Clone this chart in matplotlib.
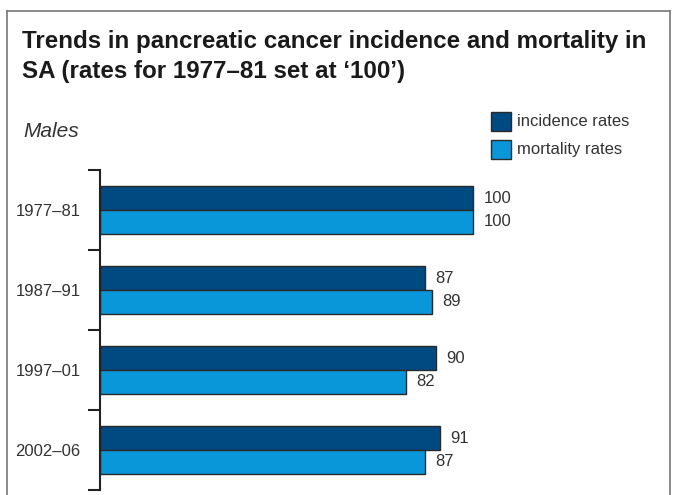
import matplotlib.pyplot as plt
from matplotlib.lines import Line2D
from matplotlib.patches import Rectangle
import numpy as np

plt.rcParams['font.family'] = ['Liberation Sans', 'DejaVu Sans']

periods = ["1977–81", "1987–91", "1997–01", "2002–06"]
incidence = [100, 87, 90, 91]
mortality = [100, 89, 82, 87]
series_names = ["incidence rates", "mortality rates"]

dark = "#004a82"
light = "#0a97d9"
edge = "#2a2a2a"
txt = "#333333"

W, H = 679, 495
fig = plt.figure(figsize=(6.79, 4.95), dpi=100)
ax = fig.add_axes([100 / W, 5 / H, 560 / W, 320 / H])

y = np.arange(len(periods))
h = 0.295
ax.barh(y - h / 2, incidence, height=h, color=dark, edgecolor=edge, linewidth=1)
ax.barh(y + h / 2, mortality, height=h, color=light, edgecolor=edge, linewidth=1)

for i in range(len(periods)):
    ax.text(incidence[i] + 2.7, y[i] - h / 2, str(incidence[i]), va="center", ha="left",
            fontsize=12, color=txt)
    ax.text(mortality[i] + 2.7, y[i] + h / 2, str(mortality[i]), va="center", ha="left",
            fontsize=12, color=txt)

ax.set_xlim(0, 150)
ax.set_ylim(3.5, -0.5)
ax.set_yticks(np.arange(-0.5, 4, 1))
ax.set_yticklabels([])
ax.set_yticks(y, minor=True)
ax.set_yticklabels(periods, minor=True, fontsize=12, color=txt)
ax.tick_params(axis="y", which="major", length=9, width=1.5, color="#222222", direction="out")
ax.tick_params(axis="y", which="minor", length=0, pad=14)
ax.set_xticks([])
for s in ["top", "right", "bottom"]:
    ax.spines[s].set_visible(False)
ax.spines["left"].set_linewidth(1.5)
ax.spines["left"].set_color("#222222")

# title and subtitle
fig.text(22 / W, 1 - 48 / H, "Trends in pancreatic cancer incidence and mortality in",
         fontsize=17.4, fontweight="bold", color="#1a1a1a", va="baseline", ha="left")
fig.text(22 / W, 1 - 78 / H, "SA (rates for 1977–81 set at \u2018100\u2019)",
         fontsize=17.4, fontweight="bold", color="#1a1a1a", va="baseline", ha="left")
fig.text(23 / W, 1 - 137 / H, "Males", fontsize=15, style="italic", color=txt,
         va="baseline", ha="left")

# legend (square swatches at top right)
for k, (name, col) in enumerate(zip(series_names, [dark, light])):
    top = 112 + k * 28
    fig.add_artist(Rectangle((491 / W, 1 - (top + 19) / H), 20 / W, 19 / H,
                             facecolor=col, edgecolor=edge, lw=1, transform=fig.transFigure))
    fig.text(517 / W, 1 - (top + 9.5) / H, name, fontsize=12, color=txt,
             va="center", ha="left")

# frame around the figure
fc = "#777777"
fig.add_artist(Line2D([7 / W, 7 / W], [0, 1 - 11 / H], color=fc, lw=1.2))
fig.add_artist(Line2D([7 / W, 670 / W], [1 - 11 / H, 1 - 11 / H], color=fc, lw=1.2))
fig.add_artist(Line2D([670 / W, 670 / W], [0, 1 - 11 / H], color=fc, lw=1.2))

fig.savefig("out.png", dpi=100)
